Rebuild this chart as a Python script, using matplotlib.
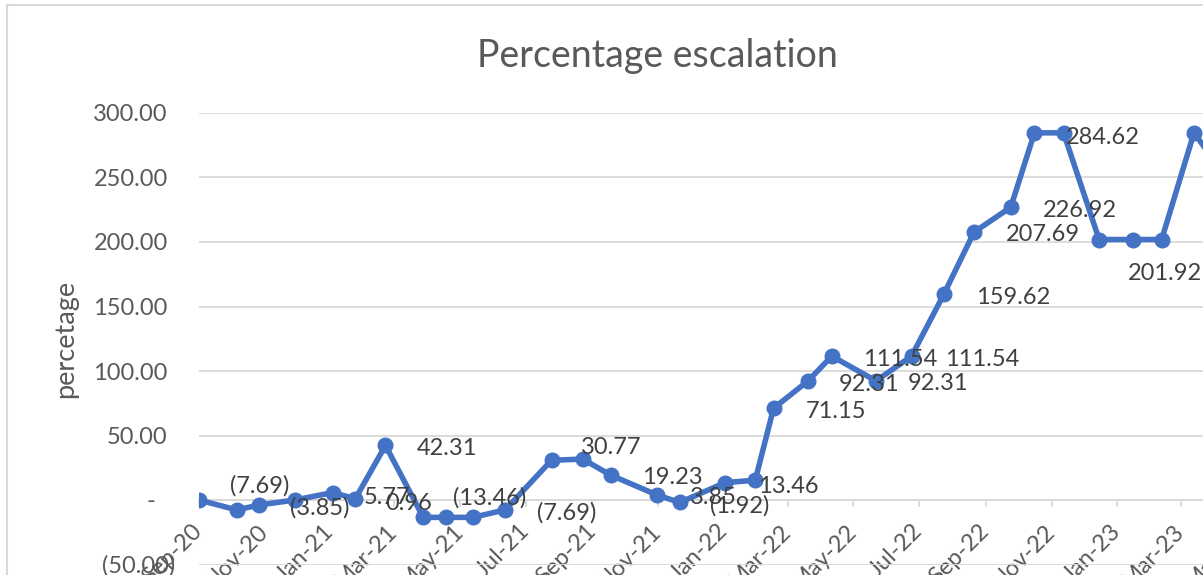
import numpy as np
import matplotlib.pyplot as plt
import matplotlib.dates as mdates
from matplotlib.patches import Rectangle

# data
dates = np.array([
    "2020-09-01", "2020-10-06", "2020-10-27", "2020-11-29", "2021-01-03",
    "2021-01-24", "2021-02-21", "2021-03-28", "2021-04-18", "2021-05-13",
    "2021-06-12", "2021-07-25", "2021-08-23", "2021-09-18", "2021-10-31",
    "2021-11-21", "2022-01-02", "2022-01-30", "2022-02-16", "2022-03-20",
    "2022-04-11", "2022-05-22", "2022-06-24", "2022-07-24", "2022-08-21",
    "2022-09-24", "2022-10-16", "2022-11-12", "2022-12-15", "2023-01-15",
    "2023-02-11", "2023-03-13", "2023-04-12"], dtype="datetime64[D]")
values = [0.00, -7.69, -3.85, 0.00, 5.77,
          0.96, 42.31, -13.46, -13.46, -13.46,
          -7.69, 30.77, 31.73, 19.23, 3.85,
          -1.92, 13.46, 15.38, 71.15, 92.31,
          111.54, 92.31, 111.54, 159.62, 207.69,
          226.92, 284.62, 284.62, 201.92, 201.92,
          201.92, 284.62, 250.00]
y_ticks = [-50, 0, 50, 100, 150, 200, 250, 300]

title = "Percentage escalation"
y_title = "percetage"

# which points show a label, and where the label sits (pixels, right/down from the point)
label_pos = {1: (-6.6, -25.7), 2: (31, 0.7), 4: (31, 3), 5: (30, 2.7), 6: (31, 1),
             7: (29.3, -21), 10: (32, 1), 11: (29, -15.3), 13: (31, 0.6),
             14: (32.7, 0.7), 15: (30, 1.7), 16: (32.7, 2.3), 18: (32, 1),
             19: (31, 1.7), 20: (31.7, 1.7), 21: (31.3, 1), 22: (33.7, 1),
             23: (31.7, 1), 24: (31.3, 0.3), 25: (32, 1), 26: (31.7, 2.3),
             28: (29, 31.7)}


def acct(v):
    if v < 0:
        return "({:,.2f})".format(abs(v))
    if v == 0:
        return "-"
    return "{:,.2f}".format(v)


plt.rcParams['font.family'] = ['Lato', 'DejaVu Sans']
W, H = 1203, 575
fig = plt.figure(figsize=(W / 100, H / 100), dpi=100)

# chart area border (cut off on the right and at the bottom)
fig.patches.append(Rectangle((6.7 / W, -0.2), 1.3, 1.2 - 4.7 / H, transform=fig.transFigure,
                             facecolor='none', edgecolor='#D9D9D9', lw=1.5))

x0 = np.datetime64("2020-09-01")
x1 = np.datetime64("2023-06-01")
px_day = 1.078
ax_w = (x1 - x0).astype(int) * px_day
ax = fig.add_axes([199 / W, 10.5 / H, ax_w / W, 451.5 / H])
ax.set_xlim(x0, x1)
ax.set_ylim(-50, 300)

ax.plot(dates, values, color='#4472C4', lw=4, marker='o', ms=10.5,
        solid_joinstyle='round', zorder=3)

ax.set_yticks(y_ticks)
ax.yaxis.grid(True, color='#D9D9D9', lw=1.3)
ax.set_axisbelow(True)
ax.tick_params(axis='y', length=0, labelleft=False)
for s in ['top', 'right', 'left']:
    ax.spines[s].set_visible(False)
ax.spines['bottom'].set_position(('data', 0))
ax.spines['bottom'].set_color('#D9D9D9')
ax.spines['bottom'].set_linewidth(1.3)

ax.xaxis.set_major_locator(mdates.MonthLocator(bymonth=[1, 3, 5, 7, 9, 11]))
ax.xaxis.set_major_formatter(mdates.DateFormatter('%b-%y'))
ax.tick_params(axis='x', length=5, width=1.3, color='#D9D9D9', labelsize=17,
               labelcolor='#595959', pad=15)
plt.setp(ax.get_xticklabels(), rotation=45, ha='right', va='center', rotation_mode='anchor')

# value axis labels, accounting style
for t in y_ticks:
    dx = -31.3
    if t == 0:
        dx = -44
    elif t < 0:
        dx = -24
    ax.annotate(acct(t), xy=(0, t), xycoords=('axes fraction', 'data'),
                xytext=(dx, -8.5), textcoords='offset pixels', ha='right',
                va='baseline', fontsize=17, color='#595959', annotation_clip=False)

# data labels
for i, (dx, dy) in label_pos.items():
    ax.annotate(acct(values[i]), xy=(dates[i], values[i]), xytext=(dx, -(dy + 8.5)),
                textcoords='offset pixels', ha='left', va='baseline',
                fontsize=17, color='#404040', zorder=4, annotation_clip=False)

fig.text(657.5 / W, 1 - 66.7 / H, title, ha='center', va='baseline',
         fontsize=27, color='#595959')
fig.text(66 / W, 1 - 339 / H, y_title, rotation=90, ha='center', va='center',
         fontsize=19.5, color='#595959')

fig.savefig('out.png', dpi=100)
